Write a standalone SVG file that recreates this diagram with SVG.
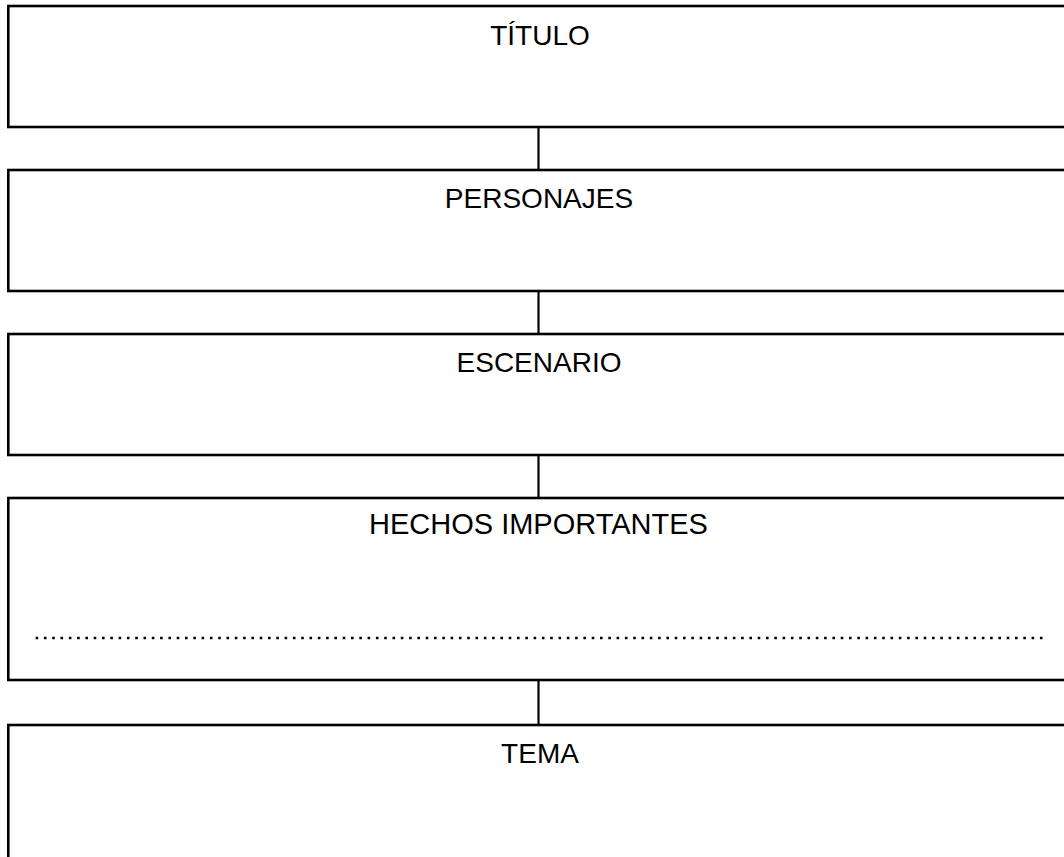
<svg xmlns="http://www.w3.org/2000/svg" width="1064" height="857" viewBox="0 0 1064 857">
<style>
.box{fill:#fff;stroke:#000;stroke-width:2.6}
.lbl{font-family:"Liberation Sans",Arial,sans-serif;font-size:28px;fill:#000;text-anchor:middle}
.con line{stroke:#000;stroke-width:2.2}
.dots{stroke:#000;stroke-width:2.6;stroke-dasharray:2.6 5.7}
</style>
<rect width="1064" height="857" fill="#fff"/>
<g id="connectors" class="con">
<line x1="538.5" y1="127" x2="538.5" y2="170"/>
<line x1="538.5" y1="291" x2="538.5" y2="334"/>
<line x1="538.5" y1="455" x2="538.5" y2="498"/>
<line x1="538.5" y1="680" x2="538.5" y2="725"/>
</g>
<g id="titulo">
<rect class="box" x="8.3" y="6" width="1070" height="121"/>
<text class="lbl" x="540" y="45">TÍTULO</text>
</g>
<g id="personajes">
<rect class="box" x="8.3" y="170" width="1070" height="121"/>
<text class="lbl" x="539" y="208">PERSONAJES</text>
</g>
<g id="escenario">
<rect class="box" x="8.3" y="334" width="1070" height="121"/>
<text class="lbl" x="539" y="372">ESCENARIO</text>
</g>
<g id="hechos">
<rect class="box" x="8.3" y="498" width="1070" height="182"/>
<text class="lbl" x="538.5" y="534" style="font-size:29px">HECHOS IMPORTANTES</text>
<line class="dots" x1="35.6" y1="638" x2="1043" y2="638"/>
</g>
<g id="tema">
<rect class="box" x="8.3" y="725" width="1070" height="160"/>
<text class="lbl" x="540" y="763">TEMA</text>
</g>
</svg>
